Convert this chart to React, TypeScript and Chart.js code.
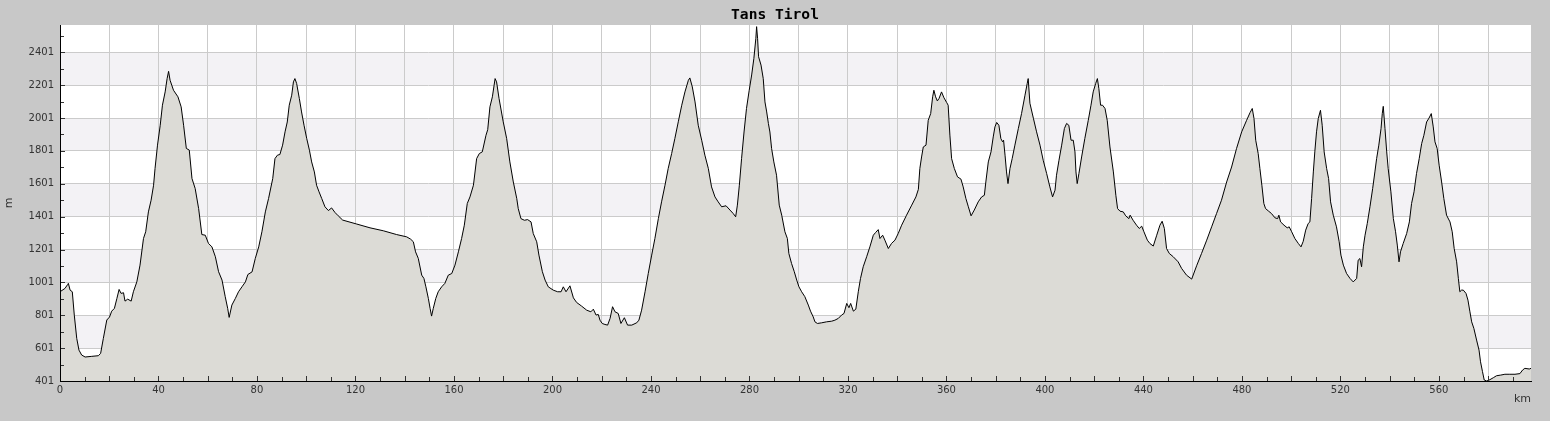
import React, { useEffect, useRef } from 'react';
import { Chart, registerables } from 'chart.js';

Chart.register(...registerables);

const TITLE = 'Tans Tirol';
const X_TITLE = 'km';
const Y_TITLE = 'm';

const DISTANCE_KM = [
  0, 2.0, 3.1, 3.4, 4.1, 5.0, 5.8, 6.8, 7.7, 8.8,
  10.2, 12.9, 15.6, 16.5, 17.6, 19.0, 20.1, 21.0, 22.1, 23.1,
  24.0, 24.8, 25.8, 26.4, 27.5, 28.9, 29.8, 31.2, 32.5, 33.9,
  34.8, 35.9, 37.0, 38.0, 38.6, 39.6, 40.7, 41.6, 42.7, 43.5,
  44.1, 44.7, 46.1, 47.9, 49.2, 50.2, 51.3, 52.5, 53.6, 54.9,
  56.3, 57.6, 59.0, 60.3, 61.7, 63.1, 64.4, 65.8, 67.1, 68.1,
  68.7, 69.8, 71.2, 72.5, 73.9, 75.3, 76.3, 78.0, 79.3, 80.7,
  82.0, 83.4, 84.7, 86.4, 87.3, 88.3, 89.3, 90.4, 91.4, 92.3,
  93.1, 94.1, 94.8, 95.4, 96.1, 97.2, 98.1, 99.1, 100.2, 101.3,
  102.2, 103.3, 104.2, 105.2, 106.3, 107.6, 109.0, 110.3, 111.7, 113.0,
  114.8, 120.5, 125.9, 131.3, 136.7, 140.8, 142.4, 143.5, 144.4, 145.5,
  146.9, 147.8, 148.6, 149.6, 150.3, 150.9, 151.6, 152.6, 153.6, 155.0,
  156.3, 157.7, 159.1, 160.4, 161.8, 163.1, 164.2, 165.4, 166.5, 167.9,
  169.2, 170.3, 171.5, 173.0, 173.7, 174.6, 175.6, 176.7, 177.3, 178.3,
  180.0, 181.4, 182.7, 184.1, 185.5, 186.1, 187.2, 188.6, 189.9, 191.3,
  192.2, 193.6, 194.5, 195.9, 197.0, 198.3, 200.3, 202.1, 203.5, 204.4,
  205.5, 207.1, 208.5, 209.8, 211.8, 213.9, 215.6, 216.6, 217.7, 218.6,
  219.3, 220.2, 221.3, 222.4, 223.4, 224.4, 225.4, 226.7, 227.8, 229.2,
  230.5, 232.2, 234.2, 235.1, 236.2, 237.6, 238.9, 240.3, 241.6, 243.0,
  244.3, 245.7, 247.0, 248.4, 249.7, 251.1, 252.5, 253.8, 255.2, 255.8,
  256.8, 257.9, 259.2, 260.6, 261.9, 263.3, 264.6, 266.0, 267.3, 268.7,
  270.5, 272.1, 273.4, 274.4, 275.1, 275.9, 276.8, 277.8, 278.8, 279.9,
  280.9, 281.8, 282.6, 282.9, 283.3, 283.7, 284.7, 285.6, 286.3, 287.0,
  287.7, 288.3, 289.0, 289.9, 291.0, 292.1, 293.1, 294.4, 295.4, 296.0,
  297.1, 298.2, 299.2, 300.1, 301.2, 302.5, 303.9, 304.8, 305.9, 306.6,
  307.6, 309.3, 311.3, 313.4, 314.7, 316.1, 317.4, 318.4, 319.5, 320.4,
  321.1, 322.2, 323.2, 324.2, 325.1, 326.2, 327.6, 328.9, 330.3, 331.2,
  332.3, 333.0, 334.1, 335.0, 336.4, 337.7, 339.1, 340.4, 341.8, 343.8,
  345.9, 347.6, 348.6, 349.2, 349.9, 350.6, 351.7, 352.6, 353.6, 354.4,
  354.9, 355.6, 356.3, 357.0, 358.0, 359.0, 360.1, 360.7, 361.4, 362.1,
  363.2, 364.5, 365.9, 366.8, 367.9, 368.9, 370.0, 371.3, 372.9, 374.3,
  375.4, 376.0, 377.0, 378.1, 379.0, 379.7, 380.4, 381.3, 382.1, 382.8,
  383.2, 383.8, 384.4, 385.0, 385.8, 386.7, 387.8, 389.2, 390.5, 391.9,
  392.8, 393.2, 393.9, 395.3, 396.6, 398.0, 399.3, 400.7, 402.0, 403.1,
  404.1, 404.7, 405.7, 406.8, 407.9, 408.8, 409.7, 410.6, 411.5, 412.2,
  412.6, 413.1, 413.8, 414.9, 416.2, 417.6, 418.7, 419.6, 420.6, 421.3,
  421.9, 422.6, 423.4, 424.4, 425.3, 426.4, 427.8, 428.8, 429.5, 430.5,
  431.8, 432.8, 434.1, 434.6, 435.8, 437.2, 438.3, 439.3, 440.2, 441.6,
  442.6, 444.0, 445.4, 446.7, 447.6, 448.5, 449.4, 450.5, 452.1, 454.1,
  455.5, 457.5, 459.6, 461.6, 463.6, 465.7, 467.7, 469.7, 471.7, 473.8,
  475.8, 477.8, 479.9, 481.9, 483.3, 484.2, 484.9, 485.6, 486.6, 487.3,
  488.1, 488.9, 489.6, 490.7, 492.0, 493.4, 494.5, 495.0, 495.7, 497.1,
  498.4, 499.2, 500.2, 501.5, 502.9, 504.0, 504.9, 505.9, 506.9, 507.6,
  508.3, 509.0, 509.6, 510.3, 511.0, 511.9, 512.6, 513.4, 514.4, 515.2,
  516.0, 517.1, 518.4, 519.5, 520.2, 521.2, 522.5, 523.9, 525.2, 526.6,
  527.2, 527.9, 528.6, 529.3, 530.0, 530.9, 532.0, 533.1, 534.0, 534.7,
  535.6, 536.5, 537.0, 537.4, 538.1, 538.8, 539.4, 540.5, 541.5, 542.4,
  543.1, 543.8, 544.4, 545.5, 546.9, 548.0, 548.9, 549.9, 550.9, 552.0,
  553.0, 553.9, 555.0, 556.0, 556.9, 557.7, 558.4, 559.3, 560.1, 561.1,
  562.0, 563.1, 564.5, 565.4, 566.2, 567.2, 567.9, 568.5, 569.2, 569.9,
  571.0, 571.8, 572.6, 573.3, 574.2, 575.3, 576.3, 576.9, 577.7, 578.4,
  579.4, 580.7, 582.1, 583.4, 585.1, 586.8, 588.8, 590.9, 592.9, 594.0,
  594.9, 596.7, 597.4,
];

const ELEVATION_M = [
  944, 964, 988, 995, 954, 944, 802, 660, 589, 559,
  547, 551, 555, 569, 660, 772, 790, 826, 843, 903,
  958, 934, 938, 887, 899, 887, 944, 1004, 1106, 1268,
  1309, 1430, 1501, 1592, 1694, 1836, 1957, 2079, 2160, 2241,
  2285, 2231, 2170, 2130, 2069, 1957, 1816, 1806, 1633, 1572,
  1450, 1292, 1288, 1238, 1217, 1157, 1066, 1015, 914, 843,
  788, 863, 903, 944, 974, 1004, 1049, 1065, 1146, 1217,
  1309, 1430, 1511, 1633, 1754, 1775, 1779, 1836, 1917, 1977,
  2079, 2140, 2221, 2241, 2211, 2120, 2038, 1957, 1876, 1805,
  1734, 1673, 1592, 1552, 1511, 1461, 1438, 1454, 1426, 1406,
  1380, 1356, 1333, 1315, 1292, 1278, 1264, 1248, 1187, 1147,
  1045, 1025, 974, 903, 843, 796, 843, 903, 944, 974,
  995, 1045, 1055, 1106, 1187, 1268, 1349, 1481, 1521, 1592,
  1754, 1785, 1795, 1896, 1930, 2069, 2130, 2241, 2221, 2120,
  1978, 1876, 1734, 1612, 1511, 1450, 1389, 1379, 1383, 1369,
  1298, 1248, 1167, 1066, 1015, 974, 954, 944, 944, 974,
  944, 980, 907, 879, 857, 832, 822, 838, 802, 806,
  771, 751, 745, 741, 782, 853, 822, 812, 751, 786,
  741, 741, 755, 771, 832, 944, 1055, 1167, 1268, 1389,
  1491, 1592, 1694, 1785, 1876, 1978, 2079, 2160, 2231, 2245,
  2190, 2099, 1957, 1866, 1775, 1694, 1582, 1521, 1491, 1461,
  1467, 1441, 1420, 1400, 1471, 1592, 1754, 1916, 2059, 2170,
  2263, 2364, 2486, 2557, 2486, 2374, 2323, 2241, 2099, 2038,
  1967, 1916, 1815, 1734, 1653, 1471, 1410, 1309, 1268, 1177,
  1116, 1066, 1015, 974, 944, 914, 863, 826, 791, 761,
  751, 755, 761, 765, 771, 782, 802, 812, 873, 847,
  873, 826, 838, 944, 1025, 1096, 1157, 1217, 1288, 1304,
  1322, 1268, 1288, 1258, 1207, 1238, 1258, 1298, 1349, 1410,
  1471, 1521, 1567, 1694, 1764, 1825, 1836, 1987, 2028, 2130,
  2170, 2130, 2105, 2120, 2160, 2124, 2095, 2079, 1897, 1754,
  1694, 1643, 1629, 1582, 1511, 1461, 1406, 1441, 1491, 1521,
  1531, 1612, 1734, 1795, 1886, 1947, 1974, 1957, 1876, 1856,
  1866, 1775, 1673, 1602, 1694, 1754, 1836, 1937, 2028, 2140,
  2211, 2241, 2091, 2000, 1917, 1836, 1744, 1663, 1582, 1521,
  1562, 1653, 1744, 1836, 1937, 1968, 1957, 1866, 1866, 1795,
  1673, 1602, 1663, 1764, 1876, 1987, 2079, 2160, 2211, 2241,
  2180, 2079, 2079, 2059, 1987, 1825, 1673, 1531, 1450, 1434,
  1430, 1406, 1389, 1410, 1379, 1349, 1329, 1343, 1309, 1258,
  1238, 1222, 1288, 1349, 1373, 1329, 1207, 1177, 1157, 1126,
  1086, 1045, 1021, 1102, 1177, 1258, 1339, 1420, 1501, 1612,
  1703, 1815, 1917, 1987, 2034, 2059, 1998, 1866, 1785, 1694,
  1592, 1481, 1450, 1436, 1420, 1394, 1389, 1410, 1369, 1349,
  1333, 1339, 1309, 1268, 1238, 1217, 1251, 1319, 1359, 1369,
  1511, 1673, 1795, 1917, 1998, 2048, 1957, 1795, 1694, 1633,
  1491, 1410, 1339, 1248, 1167, 1106, 1055, 1025, 1004, 1025,
  1136, 1146, 1096, 1217, 1288, 1359, 1461, 1572, 1673, 1754,
  1836, 1937, 2028, 2072, 1937, 1795, 1694, 1552, 1389, 1309,
  1228, 1126, 1187, 1238, 1298, 1369, 1481, 1552, 1663, 1754,
  1846, 1896, 1977, 2001, 2028, 1947, 1856, 1815, 1714, 1612,
  1511, 1410, 1369, 1309, 1207, 1126, 1025, 944, 954, 954,
  934, 893, 822, 761, 721, 650, 589, 518, 458, 407,
  401, 409, 421, 433, 437, 442, 442, 442, 446, 468,
  478, 474, 478,
];

const X_MIN = 0;
const X_MAX = 597.4;
const Y_MIN = 401;
const Y_MAX = 2567;

const X_TICKS = [
  0, 10, 20, 30, 40, 50, 60, 70, 80, 90, 100, 110, 120, 130, 140, 150, 160, 170, 180, 190,
  200, 210, 220, 230, 240, 250, 260, 270, 280, 290, 300, 310, 320, 330, 340, 350, 360, 370, 380, 390,
  400, 410, 420, 430, 440, 450, 460, 470, 480, 490, 500, 510, 520, 530, 540, 550, 560, 570, 580, 590,
];
const X_GRID = [20, 40, 60, 80, 100, 120, 140, 160, 180, 200, 220, 240, 260, 280, 300, 320, 340, 360, 380, 400, 420, 440, 460, 480, 500, 520, 540, 560, 580];
const X_LABELS = [0, 40, 80, 120, 160, 200, 240, 280, 320, 360, 400, 440, 480, 520, 560];

const Y_TICKS = [401, 501, 601, 701, 801, 901, 1001, 1101, 1201, 1301, 1401, 1501, 1601, 1701, 1801, 1901, 2001, 2101, 2201, 2301, 2401, 2501];
const Y_LABELS = [401, 601, 801, 1001, 1201, 1401, 1601, 1801, 2001, 2201, 2401];
const Y_BANDS = [[601, 801], [1001, 1201], [1401, 1601], [1801, 2001], [2201, 2401]];

const PAGE_BG = '#c8c8c8';
const PLOT_BG = '#ffffff';
const BAND_BG = '#f3f2f5';
const GRID_COLOR = '#cbcbcb';
const FILL_COLOR = '#dcdbd6';
const TEXT_COLOR = '#333333';

const bandsPlugin = {
  id: 'bands',
  beforeDraw(chart: any) {
    const { ctx, chartArea: a, scales } = chart;
    const y = scales.y;
    ctx.save();
    ctx.fillStyle = PLOT_BG;
    ctx.fillRect(a.left, a.top, a.right - a.left, a.bottom - a.top);
    ctx.fillStyle = BAND_BG;
    Y_BANDS.forEach(([lo, hi]) => {
      const y1 = y.getPixelForValue(hi);
      const y2 = y.getPixelForValue(lo);
      ctx.fillRect(a.left, y1, a.right - a.left, y2 - y1);
    });
    ctx.restore();
  },
};

const inwardTicksPlugin = {
  id: 'inwardTicks',
  afterDatasetsDraw(chart: any) {
    const { ctx, chartArea: a, scales } = chart;
    const x = scales.x;
    const y = scales.y;
    ctx.save();
    ctx.strokeStyle = TEXT_COLOR;
    ctx.lineWidth = 1;
    ctx.beginPath();
    X_TICKS.forEach((v) => {
      const px = Math.round(x.getPixelForValue(v)) + 0.5;
      const len = X_GRID.includes(v) || v === 0 ? 5 : 4;
      ctx.moveTo(px, a.bottom);
      ctx.lineTo(px, a.bottom - len);
    });
    Y_TICKS.forEach((v) => {
      const py = Math.round(y.getPixelForValue(v)) + 0.5;
      const len = Y_LABELS.includes(v) ? 5 : 4;
      ctx.moveTo(a.left, py);
      ctx.lineTo(a.left + len, py);
    });
    ctx.stroke();
    ctx.restore();
  },
};

export default function App() {
  const canvasRef = useRef<HTMLCanvasElement | null>(null);

  useEffect(() => {
    document.body.style.margin = '0';
    const canvas = canvasRef.current;
    if (!canvas) return;
    const points = DISTANCE_KM.map((km, i) => ({ x: km, y: ELEVATION_M[i] }));
    const chart = new Chart(canvas, {
      type: 'line',
      data: {
        datasets: [
          {
            data: points,
            borderColor: '#000000',
            borderWidth: 1,
            backgroundColor: FILL_COLOR,
            fill: 'start',
            pointRadius: 0,
            tension: 0,
            xAxisID: 'x',
            yAxisID: 'y',
          },
        ],
      },
      options: {
        animation: false,
        responsive: false,
        devicePixelRatio: 1,
        layout: { padding: 0 },
        plugins: {
          legend: { display: false },
          tooltip: { enabled: false },
          title: {
            display: true,
            text: TITLE,
            color: '#000000',
            font: { family: 'DejaVu Sans Mono', size: 14.6, weight: 'bold', lineHeight: '18px' },
            padding: { top: 6, bottom: 1 },
          },
        },
        scales: {
          x: {
            type: 'linear',
            min: X_MIN,
            max: X_MAX,
            afterBuildTicks: (axis: any) => {
              axis.ticks = X_TICKS.map((v) => ({ value: v }));
            },
            afterFit: (s: any) => {
              s.height = 40;
              s.paddingLeft = 0;
              s.paddingRight = 0;
            },
            ticks: {
              autoSkip: false,
              maxRotation: 0,
              padding: 3,
              color: TEXT_COLOR,
              font: { family: 'DejaVu Sans', size: 10 },
              callback: (value: any) => (X_LABELS.includes(Number(value)) ? String(value) : ''),
            },
            grid: {
              drawTicks: false,
              color: (ctx: any) => (ctx.tick && X_GRID.includes(ctx.tick.value) ? GRID_COLOR : 'rgba(0,0,0,0)'),
              lineWidth: 1,
            },
            border: { display: true, color: '#000000', width: 1, z: 1 },
            title: {
              display: true,
              text: X_TITLE,
              align: 'end',
              color: TEXT_COLOR,
              font: { family: 'DejaVu Sans', size: 11 },
              padding: { top: 0, bottom: 15 },
            },
          },
          y: {
            type: 'linear',
            position: 'left',
            min: Y_MIN,
            max: Y_MAX,
            afterBuildTicks: (axis: any) => {
              axis.ticks = Y_TICKS.map((v) => ({ value: v }));
            },
            afterFit: (s: any) => {
              s.width = 60;
              s.paddingTop = 0;
              s.paddingBottom = 0;
            },
            ticks: {
              autoSkip: false,
              padding: 6,
              color: TEXT_COLOR,
              font: { family: 'DejaVu Sans', size: 10 },
              callback: (value: any) => (Y_LABELS.includes(Number(value)) ? String(value) : ''),
            },
            grid: {
              drawTicks: false,
              color: (ctx: any) => (ctx.tick && Y_LABELS.includes(ctx.tick.value) && ctx.tick.value !== Y_MIN ? GRID_COLOR : 'rgba(0,0,0,0)'),
              lineWidth: 1,
            },
            border: { display: true, color: '#000000', width: 1, z: 1 },
            title: {
              display: true,
              text: Y_TITLE,
              color: TEXT_COLOR,
              font: { family: 'DejaVu Sans', size: 11 },
              padding: { top: 3, bottom: 0 },
            },
          },
          yRightGap: {
            type: 'linear',
            position: 'right',
            min: Y_MIN,
            max: Y_MAX,
            afterFit: (s: any) => {
              s.width = 19;
              s.paddingTop = 0;
              s.paddingBottom = 0;
            },
            ticks: { display: false },
            grid: { display: false, drawTicks: false },
            border: { display: false },
          },
        },
      },
      plugins: [bandsPlugin, inwardTicksPlugin],
    });
    return () => chart.destroy();
  }, []);

  return (
    <div style={{ position: 'absolute', left: 0, top: 0, width: 1550, height: 421, background: PAGE_BG }}>
      <canvas ref={canvasRef} width={1550} height={421} style={{ display: 'block', width: 1550, height: 421 }} />
    </div>
  );
}
